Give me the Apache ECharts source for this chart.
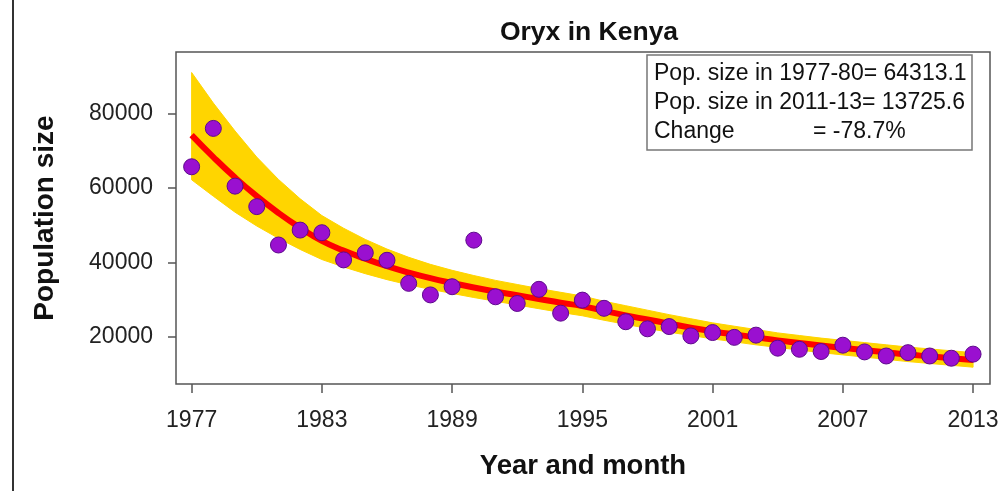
<!DOCTYPE html>
<html>
<head>
<meta charset="utf-8">
<script src="https://cdn.jsdelivr.net/npm/echarts@6/dist/echarts.min.js"></script>
<style>
html,body{margin:0;padding:0;background:#fff;}
#chart{width:1004px;height:491px;}
</style>
</head>
<body>
<div id="chart"></div>
<script>
// ---- data ----
const years = [1977,1978,1979,1980,1981,1982,1983,1984,1985,1986,1987,1988,1989,1990,1991,1992,1993,1994,1995,1996,1997,1998,1999,2000,2001,2002,2003,2004,2005,2006,2007,2008,2009,2010,2011,2012,2013];
const counts = [65700,76000,60500,55000,44700,48700,48000,40700,42600,40600,34400,31300,33500,46000,30800,29000,32800,26400,29900,27700,24100,22200,22800,20300,21200,19900,20500,17000,16700,16100,17800,16000,14900,15800,14900,14300,15400];
const fitted = [74200,68300,62800,57800,53300,49300,45800,43200,41000,39000,37300,35800,34500,33300,32200,31200,30200,29200,28300,27000,25800,24700,23600,22500,21500,20700,19900,19100,18400,17700,17100,16500,15900,15300,14800,14300,13800];
const bandUpper = [91000,82800,75300,68300,62300,57100,52600,49200,46200,43600,41400,39500,37900,36500,35200,34100,33000,32000,31000,29600,28400,27200,26000,24900,23800,22900,22000,21100,20400,19700,19100,18500,17900,17300,16800,16300,15800];
const bandLower = [62200,57800,53500,49800,46500,43500,40800,38800,37000,35400,34000,32800,31700,30600,29600,28600,27600,26600,25700,24500,23400,22300,21300,20400,19500,18700,17900,17200,16500,15800,15200,14600,14000,13400,12900,12400,11900];
const xTicks = [1977,1983,1989,1995,2001,2007,2013];
const yTicks = [20000,40000,60000,80000];
const titleText = 'Oryx in Kenya';
const xTitle = 'Year and month';
const yTitle = 'Population size';
const noteLines = ['Pop. size in 1977-80= 64313.1','Pop. size in 2011-13= 13725.6','Change'];
const changeText = '= -78.7%';

// ---- build series data ----
const pts = years.map((y,i)=>[y,counts[i]]);
const fit = years.map((y,i)=>[y,fitted[i]]);
const band = years.map((y,i)=>[y,bandLower[i],bandUpper[i]]);

const FONT = '"Liberation Sans", Arial, sans-serif';
const chart = echarts.init(document.getElementById('chart'), null, {renderer:'canvas'});
chart.setOption({
  backgroundColor:'#ffffff',
  animation:false,
  title:{
    text:titleText, left:584, top:14, textAlign:'center',
    textStyle:{fontFamily:FONT,fontWeight:'bold',fontSize:26.5,color:'#111'}
  },
  grid:{left:176,top:52,right:14,bottom:107,show:true,borderColor:'#555',borderWidth:1.5,backgroundColor:'transparent'},
  xAxis:{
    type:'value', min:1976.28, max:2013.78,
    name:xTitle, nameLocation:'middle', nameGap:68,
    nameTextStyle:{fontFamily:FONT,fontWeight:'bold',fontSize:27.5,color:'#111'},
    axisLine:{show:false},
    splitLine:{show:false},
    axisTick:{show:true,length:9,lineStyle:{color:'#555',width:1.5},customValues:xTicks},
    axisLabel:{fontFamily:FONT,fontSize:23,color:'#222',margin:25,customValues:xTicks,formatter:v=>String(v)}
  },
  yAxis:{
    type:'value', min:7383, max:96510,
    name:yTitle, nameLocation:'middle', nameGap:117, nameRotate:90,
    nameTextStyle:{fontFamily:FONT,fontWeight:'bold',fontSize:28,color:'#111'},
    axisLine:{show:false},
    splitLine:{show:false},
    axisTick:{show:true,length:8,lineStyle:{color:'#555',width:1.5},customValues:yTicks},
    axisLabel:{fontFamily:FONT,fontSize:23,color:'#222',margin:23,customValues:yTicks,formatter:v=>String(v)}
  },
  series:[
    {
      type:'custom', data:[0], z:1, silent:true,
      renderItem:function(params, api){
        const top = band.map(d=>api.coord([d[0],d[2]]));
        const bot = band.map(d=>api.coord([d[0],d[1]])).reverse();
        return {type:'polygon', shape:{points:top.concat(bot)}, style:{fill:'#FFD500',stroke:'#FFD500',lineWidth:1}};
      }
    },
    {type:'line',data:fit,smooth:true,symbol:'none',lineStyle:{color:'#FF0000',width:6},z:2},
    {type:'scatter',data:pts,symbol:'circle',symbolSize:16,itemStyle:{color:'#9A10D0',borderColor:'#5E0A8C',borderWidth:1,opacity:1},z:3}
  ],
  graphic:[
    {type:'line',shape:{x1:13,y1:0,x2:13,y2:491},style:{stroke:'#333',lineWidth:2}},
    {type:'rect',shape:{x:647,y:55,width:325,height:95},style:{fill:'#fff',stroke:'#777',lineWidth:1.5},z:10},
    {type:'text',left:654,top:62,style:{text:noteLines[0],font:'23px '+FONT,fill:'#111'},z:11},
    {type:'text',left:654,top:91,style:{text:noteLines[1],font:'23px '+FONT,fill:'#111'},z:11},
    {type:'text',left:654,top:120,style:{text:noteLines[2],font:'23px '+FONT,fill:'#111'},z:11},
    {type:'text',left:813,top:120,style:{text:changeText,font:'23px '+FONT,fill:'#111'},z:11}
  ]
});
</script>
</body>
</html>
